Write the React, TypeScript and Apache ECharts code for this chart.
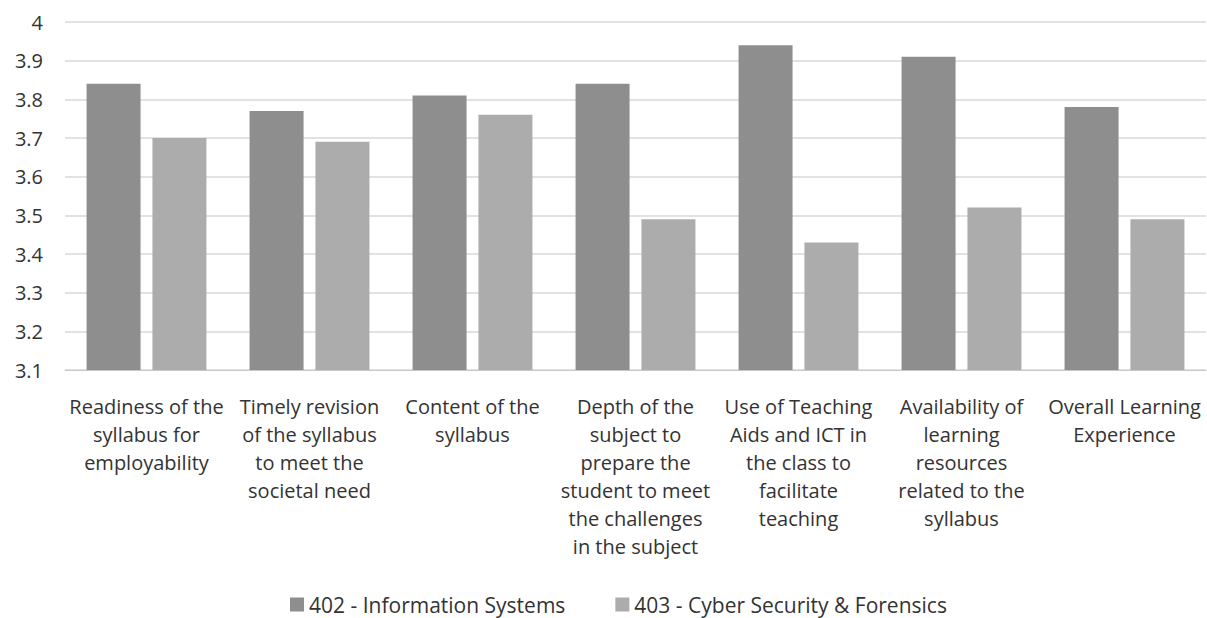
import React, { useEffect, useRef } from "react";
import * as echarts from "echarts";

const categories = [
  "Readiness of the\nsyllabus for\nemployability",
  "Timely revision\nof the syllabus\nto meet the\nsocietal need",
  "Content of the\nsyllabus",
  "Depth of the\nsubject to\nprepare the\nstudent to meet\nthe challenges\nin the subject",
  "Use of Teaching\nAids and ICT in\nthe class to\nfacilitate\nteaching",
  "Availability of\nlearning\nresources\nrelated to the\nsyllabus",
  "Overall Learning\nExperience",
];

const seriesNames = ["402 - Information Systems", "403 - Cyber Security & Forensics"];
const infoSystems = [3.84, 3.77, 3.81, 3.84, 3.94, 3.91, 3.78];
const cyberSecurity = [3.70, 3.69, 3.76, 3.49, 3.43, 3.52, 3.49];

const FONT = "'Open Sans', Lato, sans-serif";

export default function App() {
  const ref = useRef<HTMLDivElement>(null);

  useEffect(() => {
    document.body.style.margin = "0";
    if (!ref.current) return;
    const chart = echarts.init(ref.current, undefined, { renderer: "svg" });
    chart.setOption({
      animation: false,
      backgroundColor: "#ffffff",
      textStyle: { fontFamily: FONT },
      grid: { left: 65, right: 1, top: 22, bottom: 248, containLabel: false },
      legend: {
        left: 285,
        top: 589,
        itemWidth: 14,
        itemHeight: 14,
        itemGap: 50,
        icon: "rect",
        textStyle: { fontSize: 21, color: "#333333", fontFamily: FONT },
        data: seriesNames,
      },
      xAxis: {
        type: "category",
        data: categories,
        axisTick: { show: false },
        axisLine: { show: true, lineStyle: { color: "#c8c8c8", width: 1 } },
        axisLabel: {
          interval: 0,
          margin: 22,
          fontSize: 20,
          lineHeight: 28,
          color: "#333333",
          fontFamily: FONT,
        },
      },
      yAxis: {
        type: "value",
        min: 3.1,
        max: 4,
        interval: 0.1,
        axisLine: { show: false },
        axisTick: { show: false },
        splitLine: { lineStyle: { color: "#d9d9d9", width: 1.5 } },
        axisLabel: {
          margin: 22,
          fontSize: 20,
          color: "#333333",
          fontFamily: FONT,
          formatter: (v: number) => String(Math.round(v * 10) / 10),
        },
      },
      series: [
        {
          name: seriesNames[0],
          type: "bar",
          data: infoSystems,
          barWidth: 54,
          barGap: "22%",
          itemStyle: { color: "#8e8e8e" },
        },
        {
          name: seriesNames[1],
          type: "bar",
          data: cyberSecurity,
          barWidth: 54,
          itemStyle: { color: "#acacac" },
        },
      ],
    });
    return () => chart.dispose();
  }, []);

  return (
    <div
      ref={ref}
      style={{ position: "absolute", left: 0, top: 0, width: 1207, height: 618 }}
    />
  );
}
